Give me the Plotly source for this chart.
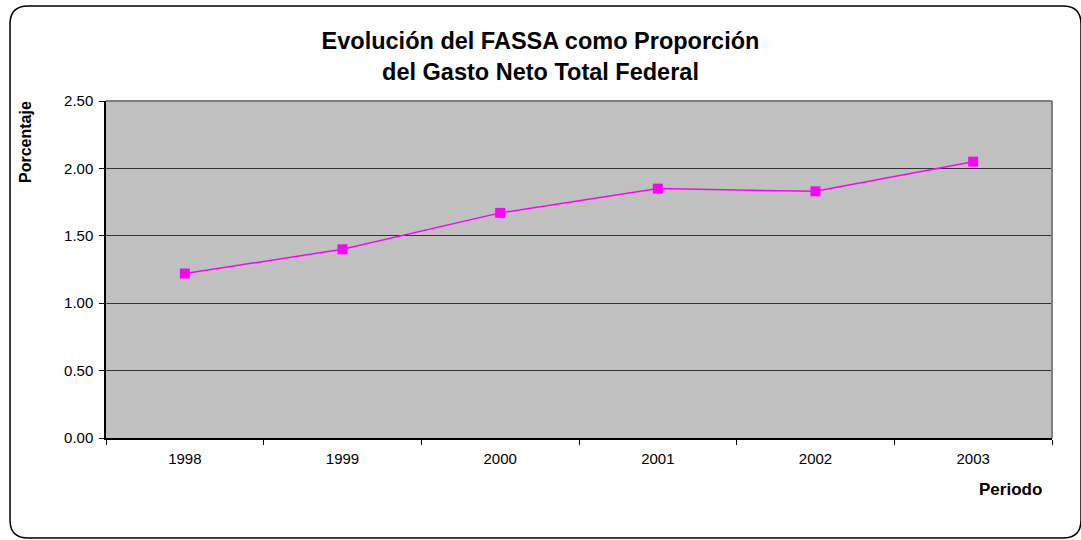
import plotly.graph_objects as go

periodos = ["1998", "1999", "2000", "2001", "2002", "2003"]
porcentaje = [1.22, 1.40, 1.67, 1.85, 1.83, 2.05]
y_ticks = [0.0, 0.5, 1.0, 1.5, 2.0, 2.5]
y_tick_labels = ["0.00", "0.50", "1.00", "1.50", "2.00", "2.50"]

W, H = 1081, 540
L, R, T, B = 106, 29, 101, 102
pw, ph = W - L - R, H - T - B

def px(x):
    return (x - L) / pw

def py(y):
    return (H - B - y) / ph

fig = go.Figure()
fig.add_trace(go.Scatter(
    x=periodos, y=porcentaje, mode="lines+markers",
    line=dict(color="#FF00FF", width=1.5),
    marker=dict(symbol="square", size=10, color="#FF00FF"),
    showlegend=False,
))

# rounded chart border
x0, x1, y0, y1, r = 10, 1081, 6, 538, 18
path = (
    f"M {px(x0 + r)},{py(y0)} L {px(x1 - r)},{py(y0)} "
    f"Q {px(x1)},{py(y0)} {px(x1)},{py(y0 + r)} "
    f"L {px(x1)},{py(y1 - r)} Q {px(x1)},{py(y1)} {px(x1 - r)},{py(y1)} "
    f"L {px(x0 + r)},{py(y1)} Q {px(x0)},{py(y1)} {px(x0)},{py(y1 - r)} "
    f"L {px(x0)},{py(y0 + r)} Q {px(x0)},{py(y0)} {px(x0 + r)},{py(y0)} Z"
)
shapes = [
    dict(type="path", xref="paper", yref="paper", path=path,
         line=dict(color="black", width=1.5), layer="below"),
    dict(type="line", xref="paper", yref="paper", x0=0, x1=1, y0=1, y1=1,
         line=dict(color="#808080", width=2)),
    dict(type="line", xref="paper", yref="paper", x0=1, x1=1, y0=0, y1=1,
         line=dict(color="#808080", width=2)),
]

fig.update_layout(
    width=W, height=H,
    margin=dict(l=L, r=R, t=T, b=B),
    paper_bgcolor="white",
    plot_bgcolor="#C0C0C0",
    font=dict(family="Liberation Sans, Arial, sans-serif", color="black", size=15),
    title=dict(
        text="<b>Evolución del FASSA como Proporción<br>del Gasto Neto Total Federal</b>",
        x=0.5, xanchor="center", y=1 - 49 / H, yanchor="middle",
        font=dict(size=23.5, family="Liberation Sans, Arial, sans-serif"),
    ),
    xaxis=dict(
        type="category", range=[-0.5, 5.5], tickson="boundaries",
        ticks="outside", ticklen=5, tickcolor="black",
        showline=True, linecolor="black", linewidth=1.5,
        showgrid=False, zeroline=False, ticklabelstandoff=6,
    ),
    yaxis=dict(
        range=[0, 2.5], tickvals=y_ticks, ticktext=y_tick_labels,
        ticks="outside", ticklen=5, tickcolor="black",
        showline=True, linecolor="black", linewidth=1.5,
        showgrid=True, gridcolor="#333333", gridwidth=1, zeroline=False,
        ticklabelstandoff=3,
    ),
    shapes=shapes,
    annotations=[
        dict(text="<b>Porcentaje</b>", xref="paper", yref="paper",
             x=px(25), y=py(142), textangle=-90, showarrow=False,
             font=dict(size=16), xanchor="center", yanchor="middle"),
        dict(text="<b>Periodo</b>", xref="paper", yref="paper",
             x=px(1010), y=py(489), showarrow=False,
             font=dict(size=17), xanchor="center", yanchor="middle"),
    ],
)

fig.write_html("out.html", config={"displayModeBar": False},
               post_script="document.body.style.margin='0';")
